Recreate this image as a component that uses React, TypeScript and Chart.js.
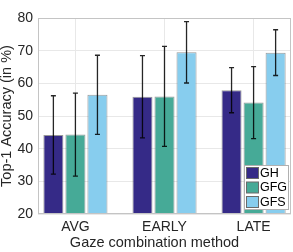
import React, { useEffect, useRef } from 'react';
import { Chart, registerables } from 'chart.js';

Chart.register(...registerables);

const categories = ['AVG', 'EARLY', 'LATE'];
const seriesLabels = ['GH', 'GFG', 'GFS'];
const ghValues = [44.2, 55.9, 57.9];
const gfgValues = [44.3, 56.0, 54.1];
const gfsValues = [56.5, 69.5, 69.4];
const ghErrors = [12.0, 12.6, 6.9];
const gfgErrors = [12.7, 15.3, 11.0];
const gfsErrors = [12.1, 9.4, 7.0];
const seriesColors = ['#352a87', '#46aa97', '#87cdee'];
const yTickValues = [20, 30, 40, 50, 60, 70, 80];
const yTitle = 'Top-1 Accuracy (in %)';
const xTitle = 'Gaze combination method';

const FONT = "'Liberation Sans', Arial, Helvetica, sans-serif";
const TEXT = '#262626';

export default function App() {
  const ref = useRef<HTMLCanvasElement>(null);

  useEffect(() => {
    if (!ref.current) return;
    const values = [ghValues, gfgValues, gfsValues];
    const errors = [ghErrors, gfgErrors, gfsErrors];

    const errorBarPlugin = {
      id: 'errorBars',
      afterDatasetsDraw(chart: any) {
        const ctx = chart.ctx;
        const y = chart.scales.y;
        ctx.save();
        ctx.strokeStyle = 'rgba(0,0,0,0.85)';
        ctx.lineWidth = 1.3;
        values.forEach((vals, di) => {
          const meta = chart.getDatasetMeta(di);
          meta.data.forEach((bar: any, i: number) => {
            const v = vals[i];
            const e = errors[di][i];
            const x = bar.x;
            const yt = y.getPixelForValue(v + e);
            const yb = y.getPixelForValue(v - e);
            ctx.beginPath();
            ctx.moveTo(x, yt);
            ctx.lineTo(x, yb);
            ctx.moveTo(x - 2.5, yt);
            ctx.lineTo(x + 2.5, yt);
            ctx.moveTo(x - 2.5, yb);
            ctx.lineTo(x + 2.5, yb);
            ctx.stroke();
          });
        });
        ctx.restore();
      },
    };

    const boxLegendPlugin = {
      id: 'boxLegend',
      afterDraw(chart: any) {
        const ctx = chart.ctx;
        const a = chart.chartArea;
        ctx.save();
        ctx.strokeStyle = '#c4c4c4';
        ctx.lineWidth = 1;
        ctx.strokeRect(a.left + 0.5, a.top + 0.5, a.right - a.left - 1, a.bottom - a.top - 1);
        // x axis title (offset left like the reference)
        ctx.fillStyle = TEXT;
        ctx.font = `14.5px ${FONT}`;
        ctx.textAlign = 'center';
        ctx.textBaseline = 'middle';
        ctx.fillText(xTitle, (a.left + a.right) / 2 - 10, a.bottom + 29);
        // legend
        const w = 44;
        const h = 44;
        const lx = Math.round(a.right - 3 - w) + 0.5;
        const ly = Math.round(a.bottom - 5 - h) + 0.5;
        ctx.fillStyle = '#ffffff';
        ctx.fillRect(lx, ly, w, h);
        ctx.strokeStyle = '#b0b0b0';
        ctx.strokeRect(lx, ly, w, h);
        ctx.font = `12.5px ${FONT}`;
        ctx.textBaseline = 'middle';
        ctx.textAlign = 'left';
        seriesLabels.forEach((lab, i) => {
          const sy = ly + 2 + i * 14.5;
          ctx.fillStyle = seriesColors[i];
          ctx.fillRect(lx + 2, sy, 12, 11);
          ctx.strokeStyle = '#6a6a6a';
          ctx.strokeRect(lx + 2, sy, 12, 11);
          ctx.fillStyle = '#000';
          ctx.fillText(lab, lx + 15.5, sy + 6);
        });
        ctx.restore();
      },
    };

    const chart = new Chart(ref.current, {
      type: 'bar',
      data: {
        datasets: seriesLabels.map((label, di) => ({
          label,
          data: values[di].map((v, i) => ({ x: i + 1, y: v })),
          backgroundColor: seriesColors[di],
          borderColor: 'rgba(70,70,70,0.55)',
          borderWidth: 1,
          categoryPercentage: 0.742,
          barPercentage: 0.91,
        })),
      },
      options: {
        animation: false,
        responsive: true,
        maintainAspectRatio: false,
        layout: { padding: { top: 18, right: 2, left: 0, bottom: 0 } },
        plugins: {
          legend: { display: false },
          tooltip: { enabled: false },
        },
        scales: {
          x: {
            type: 'linear',
            min: 0.58,
            max: 3.42,
            offset: false,
            afterBuildTicks: (scale: any) => {
              scale.ticks = categories.map((_, i) => ({ value: i + 1 }));
            },
            afterFit: (scale: any) => {
              scale.height = 38;
            },
            ticks: {
              callback: (v: any) => categories[Number(v) - 1] ?? '',
              font: { family: FONT, size: 14 },
              color: TEXT,
              padding: 5,
              maxRotation: 0,
              autoSkip: false,
            },
            grid: { color: '#e8e8e8', drawTicks: false, offset: false },
            border: { display: false },
            title: { display: false },
          },
          y: {
            min: 20,
            max: 80,
            afterBuildTicks: (scale: any) => {
              scale.ticks = yTickValues.map((v) => ({ value: v }));
            },
            afterFit: (scale: any) => {
              scale.width = 38;
            },
            ticks: {
              font: { family: FONT, size: 14 },
              color: TEXT,
              padding: 5,
            },
            grid: { color: '#e8e8e8', drawTicks: false },
            border: { display: false },
            title: {
              display: true,
              text: yTitle,
              font: { family: FONT, size: 14.5, lineHeight: 1 },
              color: TEXT,
              padding: { top: 0, bottom: 0 },
            },
          },
        },
      },
      plugins: [errorBarPlugin, boxLegendPlugin],
    });
    return () => chart.destroy();
  }, []);

  return (
    <div style={{ position: 'fixed', left: 0, top: 0, width: 293, height: 252, background: '#fff' }}>
      <canvas ref={ref} />
    </div>
  );
}
